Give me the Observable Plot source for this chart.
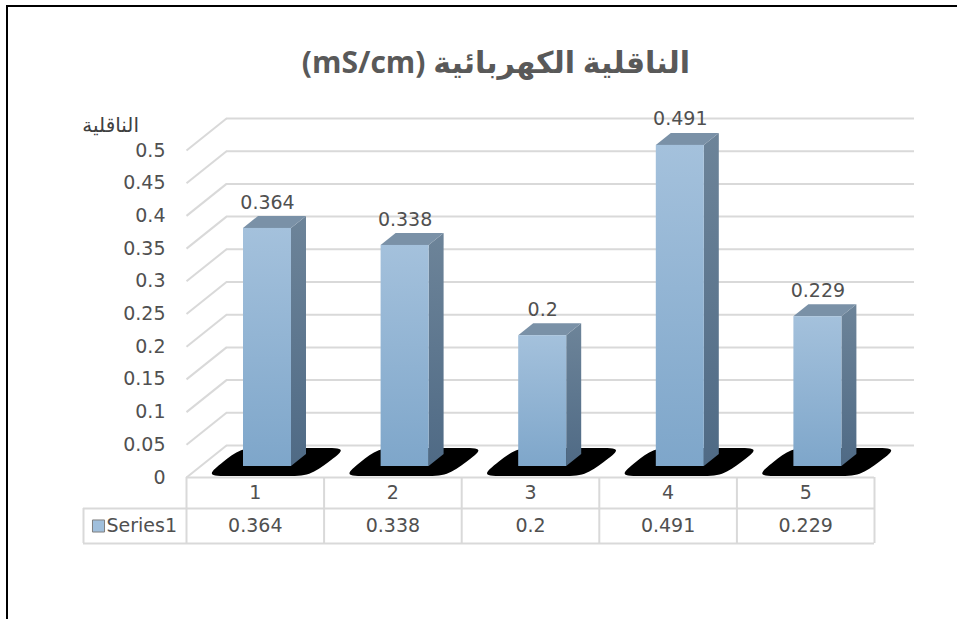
<!DOCTYPE html>
<html>
<head>
<meta charset="utf-8">
<script src="https://cdn.jsdelivr.net/npm/d3@7"></script>
<script src="https://cdn.jsdelivr.net/npm/@observablehq/plot@0.6"></script>
<style>
  html, body { margin: 0; padding: 0; background: #fff; overflow: hidden; }
  #wrap { position: relative; width: 957px; height: 619px; overflow: hidden; background: #fff; }
  #frame { position: absolute; left: 6px; top: 5px; width: 1000px; height: 700px; border: 2px solid #000; box-sizing: border-box; }
  #chart { position: absolute; left: 0; top: 0; }
  #title { position: absolute; left: 0; top: 42px; width: 992px; text-align: center; direction: rtl;
           font-family: "Open Sans", "DejaVu Sans", sans-serif; font-weight: bold; font-size: 30px; line-height: 40px; color: #595959; }
  #ytitle { position: absolute; left: 0; top: 112px; width: 139px; text-align: right; direction: rtl;
            font-family: "DejaVu Sans", sans-serif; font-size: 20px; line-height: 26px; color: #404040; }
</style>
</head>
<body>
<div id="wrap">
  <div id="frame"></div>
  <div id="chart"></div>
  <div id="title"></div>
  <div id="ytitle"></div>
</div>
<script>
// ---- data ----
const categories = ["1", "2", "3", "4", "5"];
const values = [0.364, 0.338, 0.2, 0.491, 0.229];
const yTicks = [0, 0.05, 0.1, 0.15, 0.2, 0.25, 0.3, 0.35, 0.4, 0.45, 0.5];
const yTickLabels = ["0", "0.05", "0.1", "0.15", "0.2", "0.25", "0.3", "0.35", "0.4", "0.45", "0.5"];
const seriesName = "Series1";
const chartTitle = "الناقلية الكهربائية (mS/cm)";
const yTitle = "الناقلية";

document.getElementById("title").textContent = chartTitle;
document.getElementById("ytitle").textContent = yTitle;

// ---- layout / 3D projection constants (pixels converted to data units) ----
const W = 957, H = 619, ML = 186, MR = 83, MT = 150, MB = 142;
const kx = (W - ML - MR) / categories.length; // px per category
const ky = (H - MT - MB) / 0.5;               // px per unit of y
const px = p => p / kx, py = p => p / ky;
const WALL = { dx: px(40), dy: py(32) };
const BAR = { x0: px(57), w: px(48), base: py(11), dx: px(15), dy: py(12) };
const SH = { fl: px(19), fr: px(123), bl: px(54), br: px(161), yf: py(1.5), yb: py(29.5) };
const LEG = -px(103);
const GRID = "#d9d9d9";
const TXT = "#505050";
const FS = 19;

const bars = categories.map((c, i) => ({
  c, i, v: values[i],
  xl: i + BAR.x0, xr: i + BAR.x0 + BAR.w,
  yb: BAR.base, yt: BAR.base + values[i]
}));
const sides = bars.flatMap(b => [
  { i: b.i, x: b.xr, y1: b.yb, y2: b.yt },
  { i: b.i, x: b.xr + BAR.dx, y1: b.yb + BAR.dy, y2: b.yt + BAR.dy }
]);
const tops = bars.flatMap(b => [
  { i: b.i, y: b.yt, x1: b.xl, x2: b.xr },
  { i: b.i, y: b.yt + BAR.dy, x1: b.xl + BAR.dx, x2: b.xr + BAR.dx }
]);
const lerp = (p, q, t) => [p[0] + (q[0] - p[0]) * t, p[1] + (q[1] - p[1]) * t];
const shadows = bars.flatMap(b => {
  const A = [b.i + SH.fl, SH.yf], B = [b.i + SH.fr, SH.yf],
        C = [b.i + SH.br, SH.yb], D = [b.i + SH.bl, SH.yb];
  const pts = [A, lerp(A, B, 0.2), lerp(A, B, 0.8), B, lerp(B, C, 0.5), C, lerp(C, D, 0.2), lerp(C, D, 0.8), D, lerp(D, A, 0.5)];
  return pts.map(p => ({ i: b.i, x: p[0], y: p[1] }));
});

const defs = () => {
  const g = d3.create("svg:defs");
  const mk = (id, c0, c1) => {
    const lg = g.append("linearGradient").attr("id", id).attr("x1", 0).attr("y1", 0).attr("x2", 0).attr("y2", 1);
    lg.append("stop").attr("offset", "0%").attr("stop-color", c0);
    lg.append("stop").attr("offset", "100%").attr("stop-color", c1);
  };
  mk("gFront", "#a4c1dc", "#7ea6ca");
  mk("gSide", "#6d8499", "#4f6a85");
  return g.node();
};

const chart = Plot.plot({
  width: W, height: H,
  marginLeft: ML, marginRight: MR, marginTop: MT, marginBottom: MB,
  x: { type: "linear", domain: [0, categories.length], axis: null },
  y: { type: "linear", domain: [0, 0.5], axis: null },
  style: { background: "transparent", overflow: "visible", fontFamily: "'DejaVu Sans', sans-serif" },
  marks: [
    defs,
    // back wall gridlines and side-wall diagonals
    Plot.ruleY(yTicks, { y: d => d + WALL.dy, x1: WALL.dx, x2: categories.length + WALL.dx, stroke: GRID, strokeWidth: 2 }),
    Plot.link(yTicks, { x1: 0, y1: d => d, x2: WALL.dx, y2: d => d + WALL.dy, stroke: GRID, strokeWidth: 2 }),
    // shadows
    Plot.line(shadows, { x: "x", y: "y", z: "i", curve: "basis-closed", fill: "#000", stroke: "none" }),
    // bars
    Plot.areaY(sides, { x: "x", y1: "y1", y2: "y2", z: "i", fill: "url(#gSide)" }),
    Plot.areaX(tops, { y: "y", x1: "x1", x2: "x2", z: "i", fill: "#7a91a7" }),
    Plot.rect(bars, { x1: "xl", x2: "xr", y1: "yb", y2: "yt", fill: "url(#gFront)" }),
    // data labels
    Plot.text(bars, { x: d => (d.xl + d.xr) / 2, y: "yt", text: d => String(d.v), dy: -26, fontSize: FS, fill: TXT }),
    // y tick labels
    Plot.text(yTicks, { x: 0, y: d => d, text: (d, i) => yTickLabels[i], textAnchor: "end", dx: -21, fontSize: FS, fill: TXT }),
    // data table grid
    Plot.ruleY([0], { x1: 0, x2: categories.length, stroke: GRID, strokeWidth: 2 }),
    Plot.ruleY([0], { x1: LEG, x2: categories.length, dy: 31, stroke: GRID, strokeWidth: 2 }),
    Plot.ruleY([0], { x1: LEG, x2: categories.length, dy: 66, stroke: GRID, strokeWidth: 2 }),
    Plot.ruleX(d3.range(categories.length + 1), { x: d => d, y1: 0, y2: -py(66), stroke: GRID, strokeWidth: 2 }),
    Plot.ruleX([LEG], { x: d => d, y1: -py(31), y2: -py(66), stroke: GRID, strokeWidth: 2 }),
    // data table text
    Plot.text(categories, { x: (d, i) => i + 0.5, y: 0, dy: 15.5, fontSize: FS, fill: TXT }),
    Plot.text(values, { x: (d, i) => i + 0.5, y: 0, dy: 48.5, text: d => String(d), fontSize: FS, fill: TXT }),
    Plot.dot([seriesName], { x: 0, y: 0, dx: -88, dy: 48.5, symbol: "square", r: 6.8, fill: "#a0bfdc", stroke: "#7f7f7f", strokeWidth: 1 }),
    Plot.text([seriesName], { x: 0, y: 0, dx: -80, dy: 48.5, text: d => d, textAnchor: "start", fontSize: FS, fill: TXT })
  ]
});
document.getElementById("chart").appendChild(chart);
</script>
</body>
</html>
